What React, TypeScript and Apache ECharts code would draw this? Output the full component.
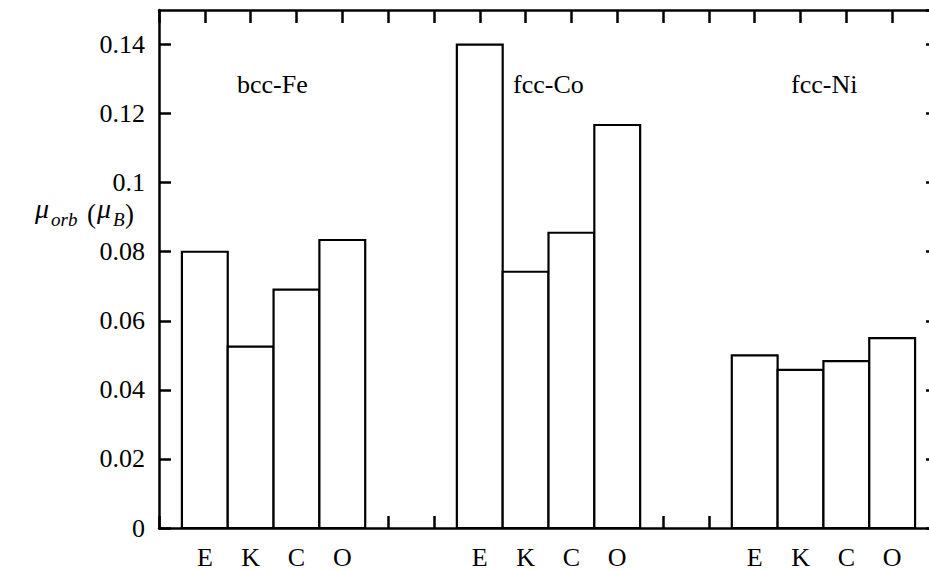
import React, { useEffect, useRef } from "react";
import * as echarts from "echarts";

// ---- data ----
const groupNames = ["bcc-Fe", "fcc-Co", "fcc-Ni"];
const methodNames = ["E", "K", "C", "O"];
const groupStartPositions = [1, 7, 13];
const feValues = [0.08, 0.0525, 0.069, 0.0834];
const coValues = [0.14, 0.0742, 0.0855, 0.1167];
const niValues = [0.05, 0.0458, 0.0483, 0.055];
const yTickValues = [0, 0.02, 0.04, 0.06, 0.08, 0.1, 0.12, 0.14];

const FONT = '"Liberation Serif", "DejaVu Serif", serif';

export default function App() {
  const ref = useRef<HTMLDivElement>(null);
  useEffect(() => {
    if (!ref.current) return;
    const chart = echarts.init(ref.current, undefined, { renderer: "svg" });
    const allValues = [feValues, coValues, niValues];
    const barData: number[][] = [];
    const tickLabelMap: Record<number, string> = {};
    allValues.forEach((vals, g) => {
      vals.forEach((v, i) => {
        const pos = groupStartPositions[g] + i;
        barData.push([pos, v]);
        tickLabelMap[pos] = methodNames[i];
      });
    });

    const axisLine = { show: true, onZero: false, lineStyle: { color: "#000", width: 2.5 } };
    const tick = (len: number) => ({ show: true, inside: true, length: len, lineStyle: { color: "#000", width: 2.5 } });
    const option: any = {
      animation: false,
      backgroundColor: "#fff",
      grid: { left: 159, top: 10, width: 779, height: 518, containLabel: false, outerBoundsMode: "none" },
      xAxis: [
        {
          type: "value",
          min: 0,
          max: 17,
          interval: 1,
          position: "bottom",
          axisLine,
          axisTick: tick(12),
          splitLine: { show: false },
          axisLabel: {
            margin: 16,
            color: "#000",
            fontFamily: FONT,
            fontSize: 26,
            formatter: (v: number) => tickLabelMap[Math.round(v)] || "",
          },
        },
        {
          type: "value",
          min: 0,
          max: 17,
          interval: 1,
          position: "top",
          axisLine,
          axisTick: tick(13),
          splitLine: { show: false },
          axisLabel: { show: false },
        },
      ],
      yAxis: [
        {
          type: "value",
          min: 0,
          max: 0.15,
          interval: 0.02,
          position: "left",
          axisLine,
          axisTick: tick(12),
          splitLine: { show: false },
          axisLabel: {
            margin: 14,
            color: "#000",
            fontFamily: FONT,
            fontSize: 26,
            showMaxLabel: false,
            formatter: (v: number) => {
              const hit = yTickValues.find((t) => Math.abs(t - v) < 1e-9);
              return hit === undefined ? "" : String(Number(hit.toFixed(2)));
            },
          },
        },
        {
          type: "value",
          min: 0,
          max: 0.15,
          interval: 0.02,
          position: "right",
          axisLine,
          axisTick: tick(12),
          splitLine: { show: false },
          axisLabel: { show: false },
        },
      ],
      series: [
        {
          type: "custom",
          xAxisIndex: 0,
          yAxisIndex: 0,
          data: barData,
          z: 1,
          renderItem: (params: any, api: any) => {
            const x = api.value(0);
            const v = api.value(1);
            const p0 = api.coord([x - 0.5, v]);
            const p1 = api.coord([x + 0.5, 0]);
            return {
              type: "rect",
              shape: { x: p0[0], y: p0[1], width: p1[0] - p0[0], height: p1[1] - p0[1] },
              style: { fill: "#fff", stroke: "#000", lineWidth: 2.2 },
            };
          },
        },
      ],
      graphic: [
        { type: "text", left: 237, top: 71, style: { text: groupNames[0], font: `26px ${FONT}`, fill: "#000" } },
        { type: "text", left: 513, top: 71, style: { text: groupNames[1], font: `26px ${FONT}`, fill: "#000" } },
        { type: "text", left: 791, top: 71, style: { text: groupNames[2], font: `26px ${FONT}`, fill: "#000" } },
        { type: "text", x: 35, y: 222, style: { text: "μ", font: `italic 28px ${FONT}`, fill: "#000", textVerticalAlign: "bottom" } },
        { type: "text", x: 51, y: 229, style: { text: "orb", font: `italic 19px ${FONT}`, fill: "#000", textVerticalAlign: "bottom" } },
        { type: "text", x: 87, y: 227, style: { text: "(", font: `27px ${FONT}`, fill: "#000", textVerticalAlign: "bottom" } },
        { type: "text", x: 97, y: 222, style: { text: "μ", font: `italic 28px ${FONT}`, fill: "#000", textVerticalAlign: "bottom" } },
        { type: "text", x: 113, y: 229, style: { text: "B", font: `italic 19px ${FONT}`, fill: "#000", textVerticalAlign: "bottom" } },
        { type: "text", x: 125, y: 227, style: { text: ")", font: `27px ${FONT}`, fill: "#000", textVerticalAlign: "bottom" } },
      ],
    };
    chart.setOption(option);
    return () => chart.dispose();
  }, []);
  return <div ref={ref} style={{ position: "fixed", left: 0, top: 0, width: 929, height: 571 }} />;
}
